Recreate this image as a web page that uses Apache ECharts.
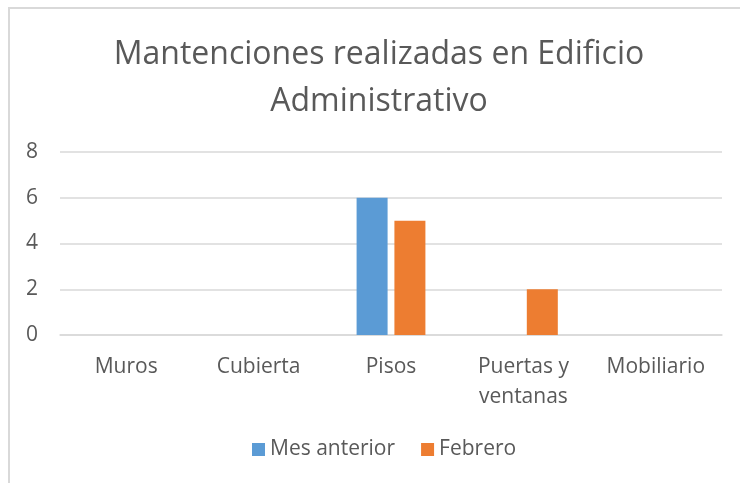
<!DOCTYPE html>
<html><head><meta charset="utf-8">
<script src="https://cdn.jsdelivr.net/npm/echarts@6/dist/echarts.min.js"></script>
<style>html,body{margin:0;padding:0;background:#fff}#c{width:740px;height:483px;position:relative}
#frame{position:absolute;left:8px;top:7px;width:740px;height:480px;border-left:2px solid #d9d9d9;border-top:2px solid #d9d9d9;box-sizing:border-box;pointer-events:none}</style>
</head><body><div id="c"></div><div id="frame"></div>
<script>
const categories = ['Muros', 'Cubierta', 'Pisos', 'Puertas y\nventanas', 'Mobiliario'];
const mesAnterior = [0, 0, 6, 0, 0];
const febrero = [0, 0, 5, 2, 0];
const yTicks = [0, 2, 4, 6, 8];
const chart = echarts.init(document.getElementById('c'));
const font = 'Open Sans';
chart.setOption({
  animation: false,
  title: {
    text: 'Mantenciones realizadas en Edificio\nAdministrativo',
    left: 379, top: 31, padding: 0, textAlign: 'center',
    textStyle: { fontFamily: font, fontSize: 32, fontWeight: 'normal', color: '#595959', lineHeight: 47 }
  },
  legend: {
    top: 439, left: 252, padding: 0, itemWidth: 13, itemHeight: 13, itemGap: 26,
    icon: 'rect',
    textStyle: { fontFamily: font, fontSize: 21, color: '#595959' },
    data: ['Mes anterior', 'Febrero']
  },
  grid: { left: 60, right: 18, top: 152, bottom: 148, containLabel: false },
  xAxis: {
    type: 'category', data: categories,
    axisLine: { lineStyle: { color: '#d9d9d9', width: 1.5 } },
    axisTick: { show: false },
    axisLabel: { fontFamily: font, fontSize: 21, color: '#595959', margin: 17, lineHeight: 30, interval: 0 }
  },
  yAxis: {
    type: 'value', min: 0, max: yTicks[yTicks.length - 1], interval: 2,
    axisLine: { show: false }, axisTick: { show: false },
    splitLine: { lineStyle: { color: '#d9d9d9', width: 1.5 } },
    axisLabel: { fontFamily: font, fontSize: 21, color: '#595959', margin: 22 }
  },
  series: [
    { name: 'Mes anterior', type: 'bar', data: mesAnterior, barWidth: 31, barGap: '22%', itemStyle: { color: '#5b9bd5' } },
    { name: 'Febrero', type: 'bar', data: febrero, barWidth: 31, barGap: '22%', itemStyle: { color: '#ed7d31' } }
  ]
});
</script></body></html>
